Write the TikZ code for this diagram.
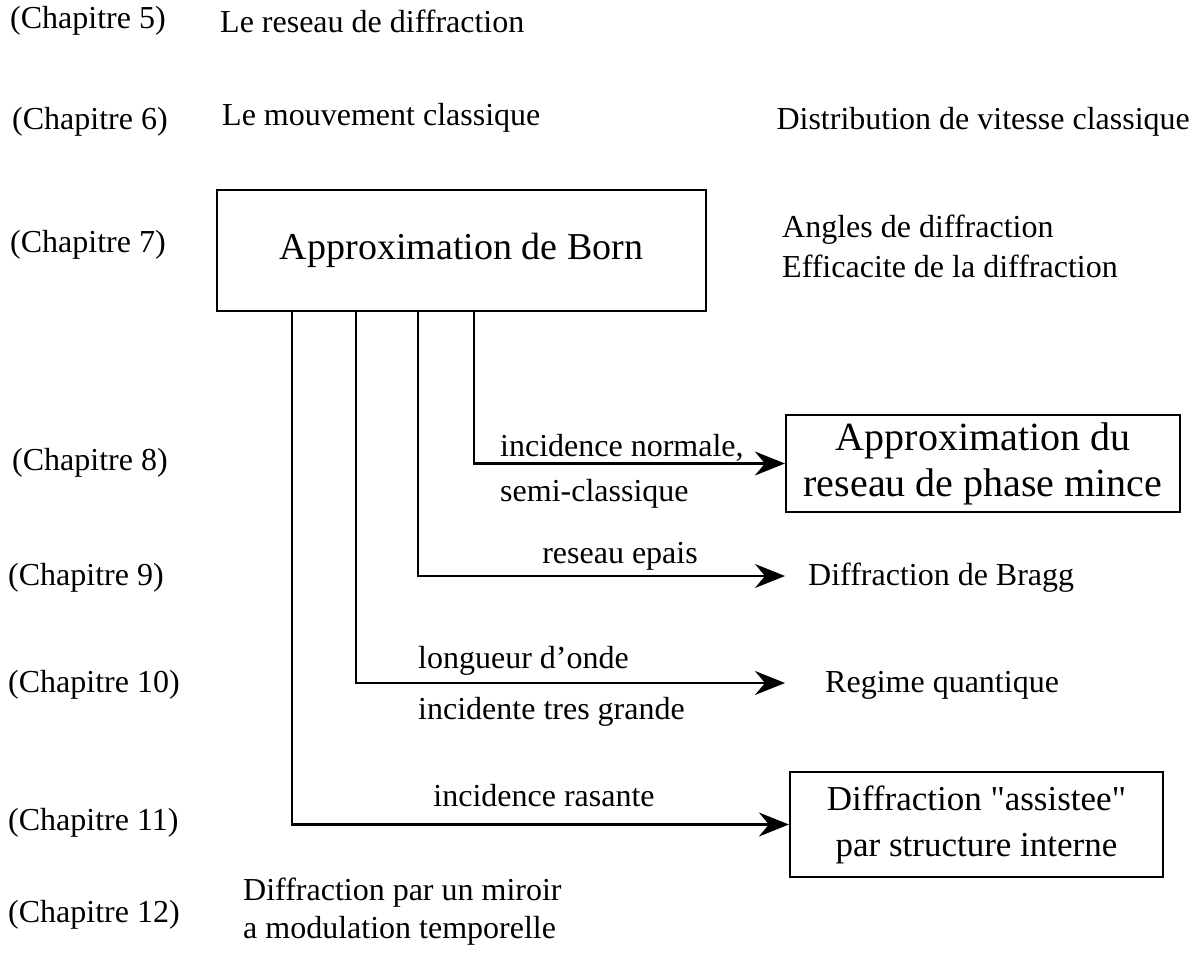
\documentclass[tikz,border=0pt]{standalone}
\usepackage{fontspec}
\setmainfont{Liberation Serif}[Ligatures=TeXOff]
\usetikzlibrary{arrows.meta}
\tikzset{
  lbl/.style={inner sep=0pt, font=\fontsize{32}{38}\selectfont},
  big/.style={inner sep=0pt, align=center, font=\fontsize{38}{46}\selectfont},
  boxed/.style={draw, line width=2.2pt, inner sep=0pt},
  conn/.style={line width=2.2pt},
  arr/.style={line width=2.2pt, -{Stealth[length=30pt, width=24pt, inset=10pt]}},
}
\begin{document}
\begin{tikzpicture}[x=1pt,y=-1pt]
\useasboundingbox (0,0) rectangle (1202,979);
% chapter labels
\node[lbl, anchor=west] (c5) at (10,21) {(Chapitre 5)};
\node[lbl, anchor=west] (c6) at (12,122) {(Chapitre 6)};
\node[lbl, anchor=west] (c7) at (10,245) {(Chapitre 7)};
\node[lbl, anchor=west] (c8) at (12,463) {(Chapitre 8)};
\node[lbl, anchor=west] (c9) at (8,578) {(Chapitre 9)};
\node[lbl, anchor=west] (c10) at (8,685) {(Chapitre 10)};
\node[lbl, anchor=west] (c11) at (8,823) {(Chapitre 11)};
\node[lbl, anchor=west] (c12) at (8,915) {(Chapitre 12)};
% top texts
\node[lbl, anchor=west] (t5) at (220,21) {Le reseau de diffraction};
\node[lbl, anchor=west] (t6) at (222,118) {Le mouvement classique};
\node[lbl, anchor=east] (t6b) at (1190,122) {Distribution de vitesse classique};
\node[lbl, anchor=west, align=left] (t7) at (782,246) {Angles de diffraction\\[2pt]Efficacite de la diffraction};
% Born box
\node[boxed, big, minimum width=489pt, minimum height=121pt] (born) at (461.5,250.5) {Approximation de Born};
% target boxes
\node[boxed, big, font=\fontsize{40}{46}\selectfont, minimum width=394pt, minimum height=97pt] (phase) at (983,463.5) {Approximation du\\reseau de phase mince};
\node[lbl, anchor=west] (bragg) at (808,578) {Diffraction de Bragg};
\node[lbl, anchor=west] (quant) at (825,685) {Regime quantique};
\node[boxed, big, font=\fontsize{35}{46}\selectfont, minimum width=373pt, minimum height=105pt] (assist) at (976.5,824.5) {Diffraction "assistee"\\par structure interne};
\node[lbl, anchor=west, align=left] (t12) at (243,912) {Diffraction par un miroir\\a modulation temporelle};
% branch points
\coordinate (b1) at (474,311);
\coordinate (b2) at (418,311);
\coordinate (b3) at (356,311);
\coordinate (b4) at (292,311);
\coordinate (e2) at (785,576);
\coordinate (e3) at (785,683);
% connectors
\draw[arr] (b1) |- (phase.west);
\draw[arr] (b2) |- (e2);
\draw[arr] (b3) |- (e3);
\draw[arr] (b4) |- (assist.west);
% connector labels
\node[lbl, anchor=west] (l1a) at (500,448) {incidence normale,};
\node[lbl, anchor=west] (l1b) at (500,494) {semi-classique};
\node[lbl] (l2) at (620,556) {reseau epais};
\node[lbl, anchor=west] (l3a) at (418,661) {longueur d’onde};
\node[lbl, anchor=west] (l3b) at (418,712) {incidente tres grande};
\node[lbl] (l4) at (544,796) {incidence rasante};
\end{tikzpicture}
\end{document}
